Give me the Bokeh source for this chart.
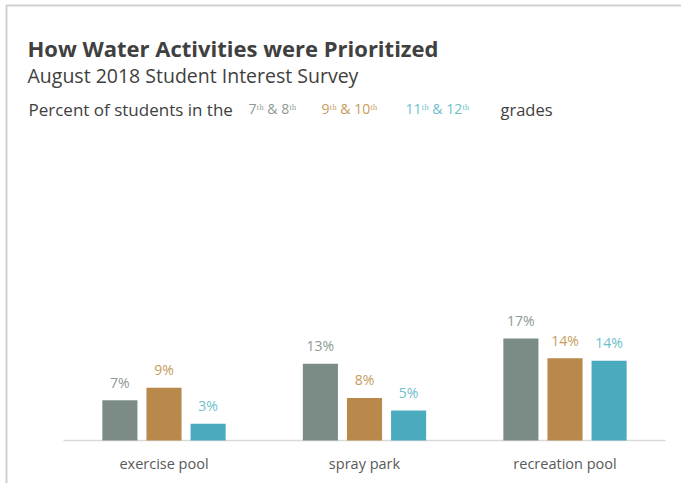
from bokeh.plotting import figure
from bokeh.models import ColumnDataSource, Label
from bokeh.transform import dodge
from bokeh.core.properties import value
from bokeh.embed import file_html
from bokeh.resources import INLINE

# ---- data ----
categories = ["exercise pool", "spray park", "recreation pool"]
grades = ["7th & 8th", "9th & 10th", "11th & 12th"]
grades_7_8 = [6.7, 12.8, 17.0]
grades_9_10 = [8.8, 7.1, 13.7]
grades_11_12 = [2.8, 5.0, 13.3]
labels_7_8 = ["7%", "13%", "17%"]
labels_9_10 = ["9%", "8%", "14%"]
labels_11_12 = ["3%", "5%", "14%"]

bar_colors = ["#7b8c86", "#b8894a", "#4aabbf"]
label_colors = ["#8e9995", "#c59d5c", "#6dbfce"]
FONT = "Open Sans"

W, H = 681, 483
# layout constants: canvas pixel of category index 0, pixels per category, baseline pixel, pixels per percent
C0, CW, BASE, PPU = 163.5, 200.5, 440.0, 6.0


def X(px):
    return (px - C0) / CW


def Y(py):
    return (BASE - py) / PPU


p = figure(width=W, height=H, x_range=(X(0), X(W)), y_range=(Y(H), Y(0)),
           output_backend="svg", toolbar_location=None, min_border=0)
p.outline_line_color = None
p.grid.grid_line_color = None
p.axis.visible = False
p.background_fill_color = "white"

idx = list(range(len(categories)))
src = ColumnDataSource(dict(i=idx, cat=categories, g1=grades_7_8, g2=grades_9_10, g3=grades_11_12,
                            l1=labels_7_8, l2=labels_9_10, l3=labels_11_12))

# frame border (top and left edges of the chart area)
p.line(x=[X(6), X(6), X(W + 10)], y=[Y(H + 10), Y(5), Y(5)], line_color="#d0d0d0", line_width=2)

# baseline
p.segment(x0=[X(63)], y0=[0], x1=[X(665)], y1=[0], line_color="#d9d9d9", line_width=1.5)

offsets = [-0.22, 0.0, 0.22]
for i, (col, lab) in enumerate([("g1", "l1"), ("g2", "l2"), ("g3", "l3")]):
    xd = dodge("i", offsets[i])
    p.vbar(x=xd, top=col, width=0.175, source=src, color=bar_colors[i], line_color=None)
    p.text(x=xd, y=col, text=lab, source=src, text_align="center", text_baseline="middle",
           y_offset=-18, text_font=value(FONT), text_font_size="14px", text_color=label_colors[i])

# category labels
p.text(x="i", y=Y(463), text="cat", source=src, text_align="center", text_baseline="middle",
       text_font=value(FONT), text_font_size="14.5px", text_color="#595959")


def add_label(text, px, py, size, color, style="normal"):
    p.add_layout(Label(x=X(px), y=Y(py), text=text, text_font=FONT, text_font_size=size,
                       text_color=color, text_font_style=style, text_baseline="alphabetic"))


add_label("How Water Activities were Prioritized", 27, 47, "22px", "#404040", "bold")
add_label("August 2018 Student  Interest Survey", 27, 75, "19.5px", "#404040")
add_label("Percent of students in the", 28, 109, "17px", "#404040")
add_label("7ᵗʰ & 8ᵗʰ", 248, 108, "14px", label_colors[0])
add_label("9ᵗʰ & 10ᵗʰ", 321, 108, "14px", label_colors[1])
add_label("11ᵗʰ & 12ᵗʰ", 405, 108, "14px", label_colors[2])
add_label("grades", 500, 109, "16.5px", "#404040")

open("out.html", "w").write(file_html(p, INLINE))
